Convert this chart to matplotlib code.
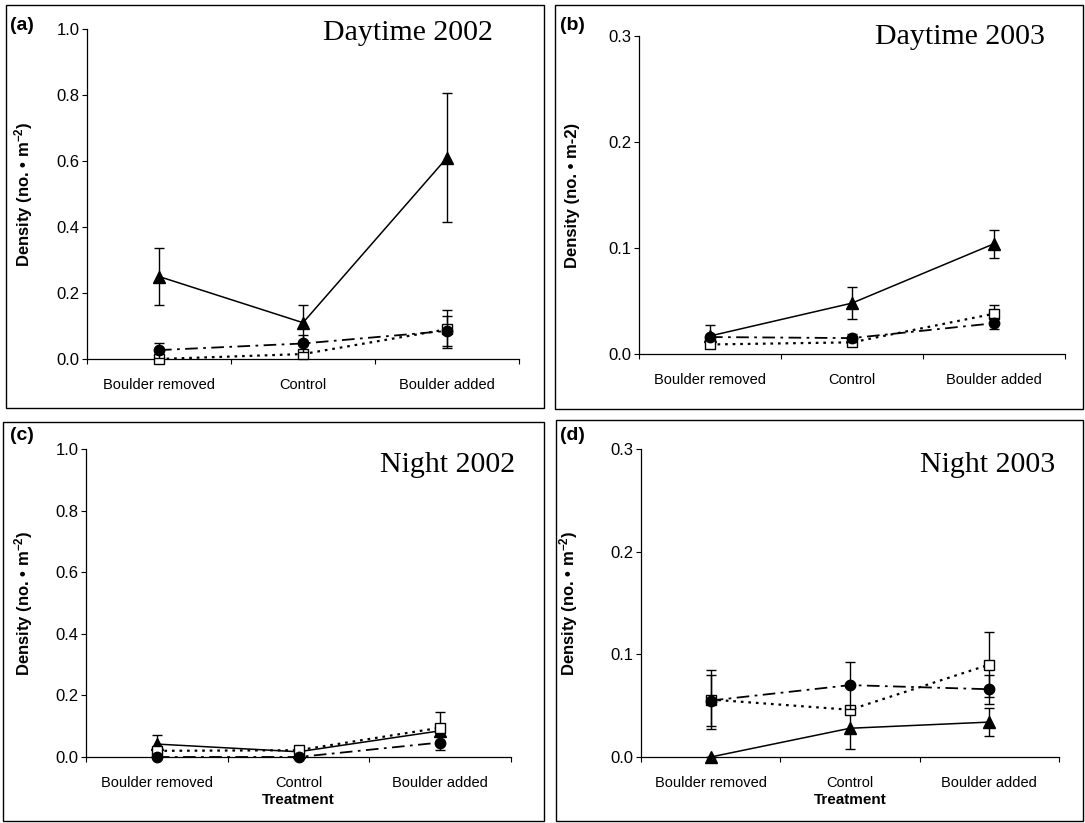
import numpy as np
import matplotlib.pyplot as plt
from matplotlib.patches import Rectangle

plt.rcParams["font.family"] = ["Liberation Sans", "DejaVu Sans"]
plt.rcParams["mathtext.fontset"] = "custom"
plt.rcParams["mathtext.rm"] = "Liberation Sans:bold"
plt.rcParams["mathtext.it"] = "Liberation Sans:bold"
plt.rcParams["mathtext.bf"] = "Liberation Sans:bold"

# Data (mean density, approx. SE)
categories = ["Boulder removed", "Control", "Boulder added"]

day02_tri = [0.25, 0.11, 0.61]
day02_tri_se = [0.085, 0.055, 0.195]
day02_circ = [0.027, 0.047, 0.085]
day02_circ_se = [0.023, 0.025, 0.045]
day02_sq = [0.0, 0.015, 0.09]
day02_sq_se = [0.0, 0.0, 0.058]

day03_tri = [0.017, 0.048, 0.104]
day03_tri_se = [0.010, 0.015, 0.013]
day03_circ = [0.016, 0.015, 0.029]
day03_circ_se = [0.0, 0.004, 0.005]
day03_sq = [0.009, 0.011, 0.038]
day03_sq_se = [0.0, 0.0, 0.008]

night02_tri = [0.042, 0.017, 0.085]
night02_tri_se = [0.028, 0.0, 0.0]
night02_circ = [0.0, 0.0, 0.047]
night02_circ_se = [0.0, 0.0, 0.024]
night02_sq = [0.02, 0.022, 0.095]
night02_sq_se = [0.0, 0.0, 0.05]

night03_tri = [0.0, 0.028, 0.034]
night03_tri_se = [0.0, 0.02, 0.014]
night03_circ = [0.055, 0.070, 0.066]
night03_circ_se = [0.025, 0.023, 0.014]
night03_sq = [0.056, 0.046, 0.090]
night03_sq_se = [0.029, 0.0, 0.032]

W, H = 1085, 823
fig = plt.figure(figsize=(W / 100, H / 100), dpi=100)


def px_axes(left, right, top, bottom):
    return fig.add_axes([left / W, 1 - bottom / H, (right - left) / W, (bottom - top) / H])


def fig_xy(x, y):
    return x / W, 1 - y / H


# panel frames
for x0, y0, x1, y1 in [(6, 5, 544, 408), (555, 5, 1083, 409), (3, 422, 544, 821), (556, 420, 1083, 821)]:
    fig.patches.append(Rectangle((x0 / W, 1 - y1 / H), (x1 - x0) / W, (y1 - y0) / H,
                                 transform=fig.transFigure, fill=False, ec="black", lw=1.0))

panels = [
    dict(box=(87, 519, 29, 359), ymax=1.0, step=0.2, title="Daytime 2002", tag="(a)",
         tri=(day02_tri, day02_tri_se), circ=(day02_circ, day02_circ_se), sq=(day02_sq, day02_sq_se),
         ylabel="Density (no. \u2022 m$^{-2}$)", ylab_x=35, title_xy=(493, 33), tag_xy=(10, 26), xlab=False),
    dict(box=(639, 1065, 36, 354), ymax=0.3, step=0.1, title="Daytime 2003", tag="(b)",
         tri=(day03_tri, day03_tri_se), circ=(day03_circ, day03_circ_se), sq=(day03_sq, day03_sq_se),
         ylabel="Density (no. \u2022 m-2)", ylab_x=580, title_xy=(1045, 37), tag_xy=(560, 26), xlab=False),
    dict(box=(86, 511, 449, 757), ymax=1.0, step=0.2, title="Night 2002", tag="(c)",
         tri=(night02_tri, night02_tri_se), circ=(night02_circ, night02_circ_se), sq=(night02_sq, night02_sq_se),
         ylabel="Density (no. \u2022 m$^{-2}$)", ylab_x=35, title_xy=(515, 465), tag_xy=(10, 436), xlab=True),
    dict(box=(641, 1059, 449, 757), ymax=0.3, step=0.1, title="Night 2003", tag="(d)",
         tri=(night03_tri, night03_tri_se), circ=(night03_circ, night03_circ_se), sq=(night03_sq, night03_sq_se),
         ylabel="Density (no. \u2022 m$^{-2}$)", ylab_x=580, title_xy=(1055, 465), tag_xy=(560, 436), xlab=True),
]

x = np.arange(len(categories))

for p in panels:
    left, right, top, bottom = p["box"]
    ax = px_axes(left, right, top, bottom)

    eb = dict(ecolor="black", elinewidth=1.0, capsize=3.5, capthick=1.0)
    m, se = p["tri"]
    ax.errorbar(x, m, yerr=se, color="black", lw=1.1, ls="-", marker="^", ms=8,
                mfc="black", mec="black", zorder=3, clip_on=False, **eb)
    m, se = p["sq"]
    ax.errorbar(x, m, yerr=se, color="black", lw=1.6, ls=(0, (1.2, 2.2)), marker="s", ms=7.5,
                mfc="white", mec="black", mew=1.0, zorder=4, clip_on=False, **eb)
    m, se = p["circ"]
    ax.errorbar(x, m, yerr=se, color="black", lw=1.3, ls=(0, (7, 3, 1.5, 3)), marker="o", ms=7.5,
                mfc="black", mec="black", zorder=5, clip_on=False, **eb)

    ax.set_xlim(-0.5, 2.5)
    ax.set_ylim(0, p["ymax"])
    ax.set_yticks(np.arange(0, p["ymax"] + 1e-9, p["step"]))
    ax.yaxis.set_major_formatter(plt.FormatStrFormatter("%.1f"))
    ax.set_xticks([-0.5, 0.5, 1.5, 2.5])
    ax.set_xticklabels([])
    ax.set_xticks(x, minor=True)
    ax.set_xticklabels(categories, minor=True, fontsize=10.5)
    ax.tick_params(axis="x", which="major", direction="out", length=3.5, width=0.8)
    ax.tick_params(axis="x", which="minor", length=0, pad=14)
    ax.tick_params(axis="y", direction="out", length=3.5, width=0.8, labelsize=12, pad=2)

    for s in ["top", "right"]:
        ax.spines[s].set_visible(False)
    for s in ["left", "bottom"]:
        ax.spines[s].set_linewidth(0.9)

    ax.set_ylabel(p["ylabel"], fontsize=12, fontweight="bold")
    ax.yaxis.set_label_coords((p["ylab_x"] - left) / (right - left), 0.5)
    if p["xlab"]:
        ax.set_xlabel("Treatment", fontsize=11, fontweight="bold", labelpad=2)

    tx, ty = fig_xy(*p["title_xy"])
    fig.text(tx, ty, p["title"], ha="right", va="center", fontsize=21.5, family="Liberation Serif")
    gx, gy = fig_xy(*p["tag_xy"])
    fig.text(gx, gy, p["tag"], ha="left", va="center", fontsize=14, fontweight="bold")

plt.savefig("out.png", dpi=100)
